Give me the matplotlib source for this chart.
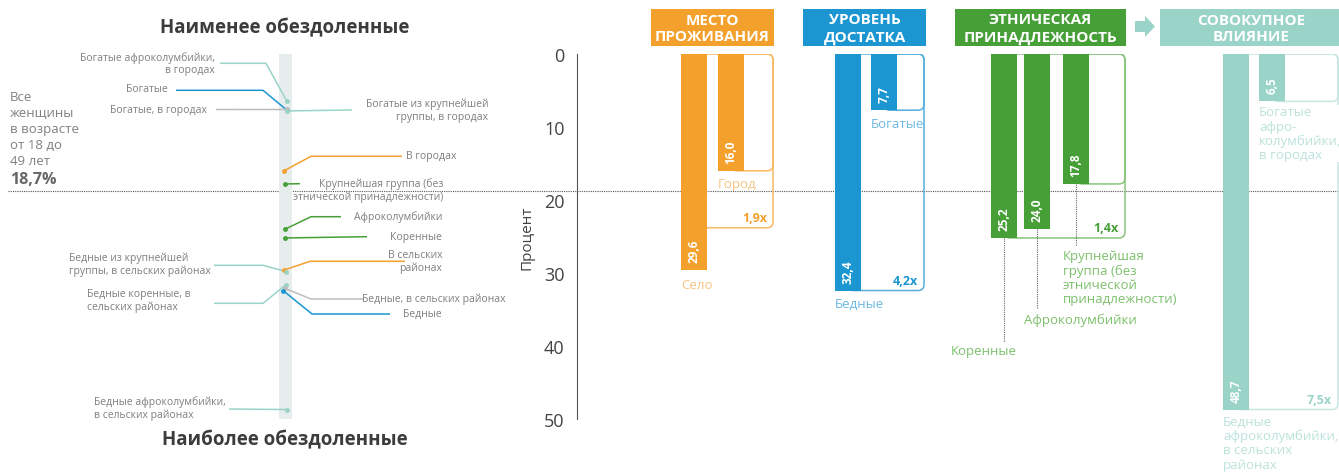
import numpy as np
import matplotlib.pyplot as plt
from matplotlib.patches import FancyBboxPatch, Rectangle, Polygon

plt.rcParams['font.family'] = ['Open Sans', 'DejaVu Sans']

# ---- data ----
header_titles = ['МЕСТО\nПРОЖИВАНИЯ', 'УРОВЕНЬ\nДОСТАТКА', 'ЭТНИЧЕСКАЯ\nПРИНАДЛЕЖНОСТЬ', 'СОВОКУПНОЕ\nВЛИЯНИЕ']
place_labels = ['Село', 'Город']
place_values = [29.6, 16.0]
wealth_labels = ['Бедные', 'Богатые']
wealth_values = [32.4, 7.7]
ethnic_labels = ['Коренные', 'Афроколумбийки', 'Крупнейшая\nгруппа (без\nэтнической\nпринадлежности)']
ethnic_values = [25.2, 24.0, 17.8]
combo_labels = ['Бедные\nафроколумбийки,\nв сельских\nрайонах', 'Богатые\nафро-\nколумбийки,\nв городах']
combo_values = [48.7, 6.5]
ratio_labels = ['1,9x', '4,2x', '1,4x', '7,5x']
box_bottoms = [23.8, 32.4, 25.2, 48.7]
avg_all = 18.7

strip_labels = ['Богатые афроколумбийки,\nв городах', 'Богатые', 'Богатые, в городах',
                'Богатые из крупнейшей\nгруппы, в городах', 'В городах',
                'Крупнейшая группа (без\nэтнической принадлежности)', 'Афроколумбийки', 'Коренные',
                'В сельских\nрайонах', 'Бедные из крупнейшей\nгруппы, в сельских районах',
                'Бедные коренные, в\nсельских районах', 'Бедные, в сельских районах', 'Бедные',
                'Бедные афроколумбийки,\nв сельских районах']
strip_values = [6.5, 7.7, 7.6, 7.8, 16.0, 17.8, 24.0, 25.2, 29.6, 29.8, 31.6, 32.1, 32.4, 48.7]

# ---- styles ----
ORANGE, BLUE, GREEN, TEAL, GRAY = '#F3A02D', '#1B96D1', '#479F38', '#9AD3C7', '#BDBDBD'
edge_cols = ['#F6B862', '#55AEDD', '#86C47A', '#C6E7E0']
label_cols = ['#F8C482', '#6CB9E2', '#7CC06C', '#BCE2DA']
main_cols = [ORANGE, BLUE, GREEN, TEAL]
TXT = '#7F7F7F'

strip_cols = [TEAL, BLUE, GRAY, TEAL, ORANGE, GREEN, GREEN, GREEN, ORANGE, TEAL, TEAL, GRAY, BLUE, TEAL]
# (text x, text y px, ha, leader points in px before the strip point, strip x)
strip_layout = [
    (215, 64.2, 'right', [(220, 64.3), (266, 64.3)], 287),
    (168, 89, 'right', [(176, 91.3), (263, 91.3)], 287),
    (207, 110, 'right', [(216, 110.5)], 287),
    (488, 110.8, 'right', [(352, 111)], 287),
    (456, 157, 'right', [(402, 157.3), (311, 157.3)], 284),
    (443, 190.8, 'right', [(300, 184.7)], 285),
    (442, 216.7, 'right', [(341, 217.7), (311, 217.7)], 285),
    (442, 237.3, 'right', [(367, 237.7)], 285),
    (442, 261.7, 'right', [(405, 262.3), (310, 262.3)], 284),
    (69, 264.7, 'left', [(214, 266.3), (263, 266.3)], 286),
    (87, 301.3, 'left', [(214, 304.3), (263, 304.3)], 286),
    (506, 299, 'right', [(363, 300), (311, 300)], 285),
    (442, 314.3, 'right', [(390, 315), (312, 315)], 283),
    (94, 409, 'left', [(229, 410)], 287),
]

Y0, K = 55.0, 7.3          # pixel row of 0 % and pixels per percent


def py(p):
    return (p - Y0) / K


fig = plt.figure(figsize=(13.39, 4.77), dpi=100)
ax = fig.add_axes([0, 57 / 477, 1, 365 / 477])
ax.set_xlim(0, 1339)
ax.set_ylim(50, 0)
ax.patch.set_visible(False)
for s in ['top', 'right', 'bottom']:
    ax.spines[s].set_visible(False)
ax.spines['left'].set_position(('data', 577))
ax.spines['left'].set_color('#555555')
ax.set_xticks([])
ax.set_yticks([0, 10, 20, 30, 40, 50])
ax.tick_params(axis='y', length=0, pad=9, labelsize=13, labelcolor='#444444')
ax.text(527, 25.1, 'Процент', rotation=90, ha='center', va='center', fontsize=11, color='#444444',
        bbox=dict(facecolor='white', edgecolor='none', pad=1))

# national average
ax.plot([8, 1339], [avg_all, avg_all], ls=(0, (1, 1)), color='#555555', lw=0.8, zorder=0, clip_on=False)

# ---- left panel ----
ax.add_patch(Rectangle((279, 0), 13, 50, facecolor='#E7ECEC', edgecolor='none', zorder=0.5))
ax.text(285, py(28), 'Наименее обездоленные', ha='center', va='center', fontsize=13.5,
        fontweight='bold', color='#3C3C3C')
ax.text(285, py(440), 'Наиболее обездоленные', ha='center', va='center', fontsize=13.5,
        fontweight='bold', color='#3C3C3C')
ax.text(10, py(129.5), 'Все\nженщины\nв возрасте\nот 18 до\n49 лет', ha='left', va='center',
        fontsize=9.5, color='#808080', linespacing=1.32)
ax.text(10, py(180), '18,7%', ha='left', va='center', fontsize=11.5, fontweight='bold', color='#666666')

for lab, v, col, (tx, ty, ha, pts, sx) in zip(strip_labels, strip_values, strip_cols, strip_layout):
    xs = [p[0] for p in pts] + [sx]
    ys = [py(p[1]) for p in pts] + [v]
    ax.plot(xs, ys, color=col, lw=1.1, zorder=2, solid_capstyle='butt')
    ax.plot([sx], [v], 'o', color=col, ms=2.5, zorder=3)
    ax.text(tx, py(ty), lab, ha=ha, va='center', multialignment=ha, fontsize=7.5, color=TXT,
            linespacing=1.2)

# ---- right panel: grouped bars ----
groups = [(place_labels, place_values), (wealth_labels, wealth_values),
          (ethnic_labels, ethnic_values), (combo_labels, combo_values)]
bar_lefts = [[681, 718], [835, 871], [991, 1024, 1063], [1223, 1259]]
box_rights = [773, 924, 1125, 1338]
header_spans = [(651, 774), (803, 926), (955, 1126), (1160, 1345)]
W = 26

for gi, (labs, vals) in enumerate(groups):
    col = main_cols[gi]
    lefts = bar_lefts[gi]
    ax.bar(lefts, vals, width=W, align='edge', color=col, zorder=2)
    # outline boxes
    x0 = lefts[0] + W / 2
    ax.add_patch(FancyBboxPatch((x0, 0), box_rights[gi] - x0, box_bottoms[gi],
                                boxstyle='round,pad=0,rounding_size=6', mutation_aspect=1 / K,
                                facecolor='none', edgecolor=edge_cols[gi], lw=1.1, zorder=1))
    x1 = lefts[-1] + W / 2
    ax.add_patch(FancyBboxPatch((x1, 0), box_rights[gi] - x1, vals[-1],
                                boxstyle='round,pad=0,rounding_size=6', mutation_aspect=1 / K,
                                facecolor='none', edgecolor=edge_cols[gi], lw=1.1, zorder=1))
    ax.text(box_rights[gi] - 6, box_bottoms[gi] - 10 / K, ratio_labels[gi], ha='right', va='center',
            fontsize=9, fontweight='bold', color=col, zorder=4)
    # value labels in bars
    for xl, v in zip(lefts, vals):
        ax.text(xl + W / 2, v - 8 / K, f'{v:.1f}'.replace('.', ','), rotation=90, ha='center',
                va='bottom', fontsize=8.5, fontweight='bold', color='white', zorder=4)
    # header
    hx0, hx1 = header_spans[gi]
    ax.add_patch(Rectangle((hx0, py(47)), hx1 - hx0, py(10) - py(47), facecolor=col,
                           edgecolor='none', clip_on=False, zorder=2))
    ax.text((hx0 + min(hx1, 1339)) / 2 + (2 if gi == 3 else 0), py(29), header_titles[gi],
            ha='center', va='center', fontsize=11, fontweight='bold', color='white',
            linespacing=1.25, zorder=3)

# category labels
bg = dict(facecolor='white', edgecolor='none', pad=0.5)
FS = 9.5
ax.text(681, 29.6 + 14 / K, place_labels[0], ha='left', va='center', fontsize=FS, color=label_cols[0])
ax.text(718, 16.0 + 13 / K, place_labels[1], ha='left', va='center', fontsize=FS, color=label_cols[0],
        bbox=bg, zorder=3)
ax.text(835, 32.4 + 13 / K, wealth_labels[0], ha='left', va='center', fontsize=FS, color=label_cols[1])
ax.text(871, 7.7 + 13 / K, wealth_labels[1], ha='left', va='center', fontsize=FS, color=label_cols[1],
        zorder=3)
ax.text(1223, 48.7 + 5 / K, combo_labels[0], ha='left', va='top', fontsize=FS, color=label_cols[3],
        linespacing=1.12)
ax.text(1259, 6.5 + 4 / K, combo_labels[1], ha='left', va='top', fontsize=FS, color=label_cols[3],
        linespacing=1.12, bbox=bg, zorder=3)

# ethnic labels with dotted leaders
eth_text = [(951, 352, 'center'), (1024, 320, 'center'), (1063, 250, 'top')]
eth_line_end = [343, 309, 247]
for xl, v, lab, (tx, ty, va), le in zip(bar_lefts[2], ethnic_values, ethnic_labels, eth_text, eth_line_end):
    ax.plot([xl + W / 2, xl + W / 2], [v, py(le)], ls=(0, (1, 1)), color='#666666', lw=0.8,
            zorder=1, clip_on=False)
    ax.text(tx, py(ty), lab, ha='left', va=va, fontsize=FS, color=label_cols[2], linespacing=1.12)

# arrow between ethnicity and combined headers
arrow_px = [(1135, 22), (1145, 22), (1145, 17), (1155, 27.5), (1145, 38), (1145, 33), (1135, 33)]
ax.add_patch(Polygon([(x, py(y)) for x, y in arrow_px], closed=True, facecolor=TEAL,
                     edgecolor='none', clip_on=False))

fig.savefig('out.png', dpi=100, facecolor='white')
